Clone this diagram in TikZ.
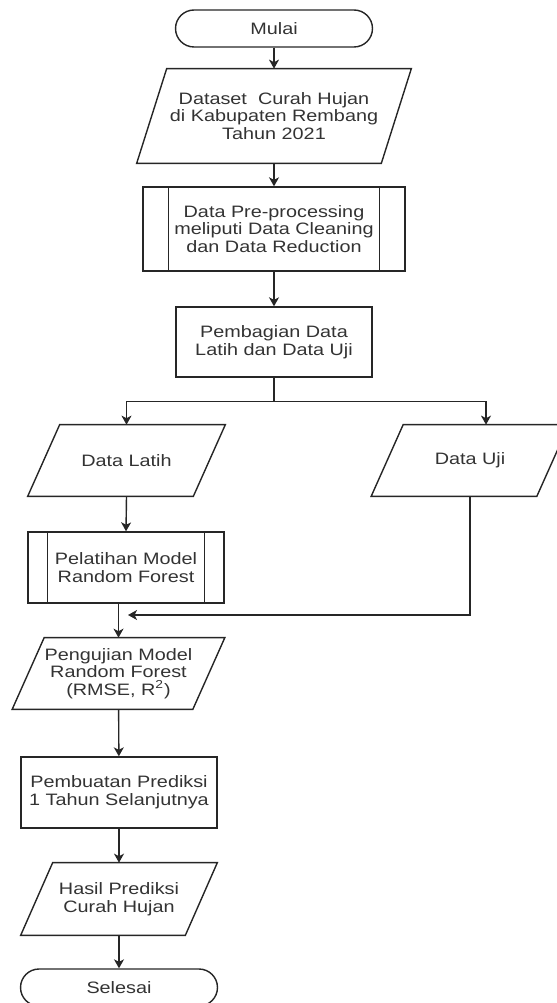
\documentclass[tikz,border=0pt]{standalone}
\usepackage{fontspec}
\setmainfont{Liberation Sans}[FakeStretch=1.2]
\usetikzlibrary{arrows.meta}

% parallelogram frame round a plain node: node name, half of the slant
\newcommand{\slantframe}[2]{%
  \draw[line] ([xshift=#2]#1.north west) -- ([xshift=#2]#1.north east)
    -- ([xshift=-#2]#1.south east) -- ([xshift=-#2]#1.south west) -- cycle;}
% inner bars of a predefined process: node name, offset
\newcommand{\procbars}[2]{%
  \draw[line] ([xshift=#2]#1.north west) -- ([xshift=#2]#1.south west);
  \draw[line] ([xshift=-#2]#1.north east) -- ([xshift=-#2]#1.south east);}

\begin{document}
\begin{tikzpicture}[x=0.02cm, y=-0.02cm,
  every node/.style={font=\fontsize{9.4}{10}\selectfont, text=black!80, align=center, inner sep=0pt},
  line/.style={draw=black!85, line width=0.8pt},
  term/.style={line, rounded corners=0.37cm, minimum width=3.94cm, minimum height=0.74cm},
  proc/.style={line, minimum width=3.92cm, minimum height=1.42cm},
  io/.style={minimum width=3.3cm, minimum height=1.42cm},
  arr/.style={line, -{Stealth[length=0.18cm, width=0.2cm, inset=0.05cm]}}]
  \useasboundingbox (0,0) rectangle (556,1003);
  % main column
  \node[term] (start) at (274,28.5) {Mulai};
  \node[io, minimum width=4.88cm, minimum height=1.88cm] (data) at (274,116)
    {Dataset\ \ Curah Hujan\\di Kabupaten Rembang\\Tahun 2021};
  \slantframe{data}{0.3cm}
  \node[proc, minimum width=5.24cm, minimum height=1.68cm] (prep) at (274,229)
    {Data Pre-processing\\meliputi Data Cleaning\\dan Data Reduction};
  \procbars{prep}{0.52cm}
  \node[proc, minimum height=1.4cm] (split) at (274,342) {Pembagian Data\\Latih dan Data Uji};
  % two branches
  \node[io] (latih) at (126.5,460.5) {Data Latih};
  \slantframe{latih}{0.32cm}
  \node[io] (uji) at (470,460.5) {Data Uji};
  \slantframe{uji}{0.32cm}
  \node[proc] (train) at (126,567.5) {Pelatihan Model\\Random Forest};
  \procbars{train}{0.4cm}
  \node[io, minimum width=3.6cm] (test) at (118.5,673.5)
    {Pengujian Model\\Random Forest\\(RMSE, R\textsuperscript{2})};
  \slantframe{test}{0.32cm}
  \node[proc] (pred) at (119,792.5) {Pembuatan Prediksi\\1 Tahun Selanjutnya};
  \node[io, minimum width=3.28cm, minimum height=1.44cm] (hasil) at (119,899)
    {Hasil Prediksi\\Curah Hujan};
  \slantframe{hasil}{0.32cm}
  \node[term] (stop) at (119,987.5) {Selesai};
  % connectors
  \draw[arr] (start) -- (data);
  \draw[arr] (data) -- (prep);
  \draw[arr] (prep) -- (split);
  \draw[line] (split.south) -- ++(0,24) coordinate (fork);
  \draw[arr] (fork) -| (latih.north);
  \draw[arr] (fork) -| ([xshift=0.32cm]uji.north);
  \draw[arr] (latih.south) -- (train.north);
  \coordinate (merge) at (128,615);
  \draw[arr] (uji.south) |- (merge);
  \draw[arr] (train.south -| test.north) -- (test.north);
  \draw[arr] (test) -- (pred);
  \draw[arr] (pred) -- (hasil);
  \draw[arr] (hasil) -- (stop);
\end{tikzpicture}
\end{document}
